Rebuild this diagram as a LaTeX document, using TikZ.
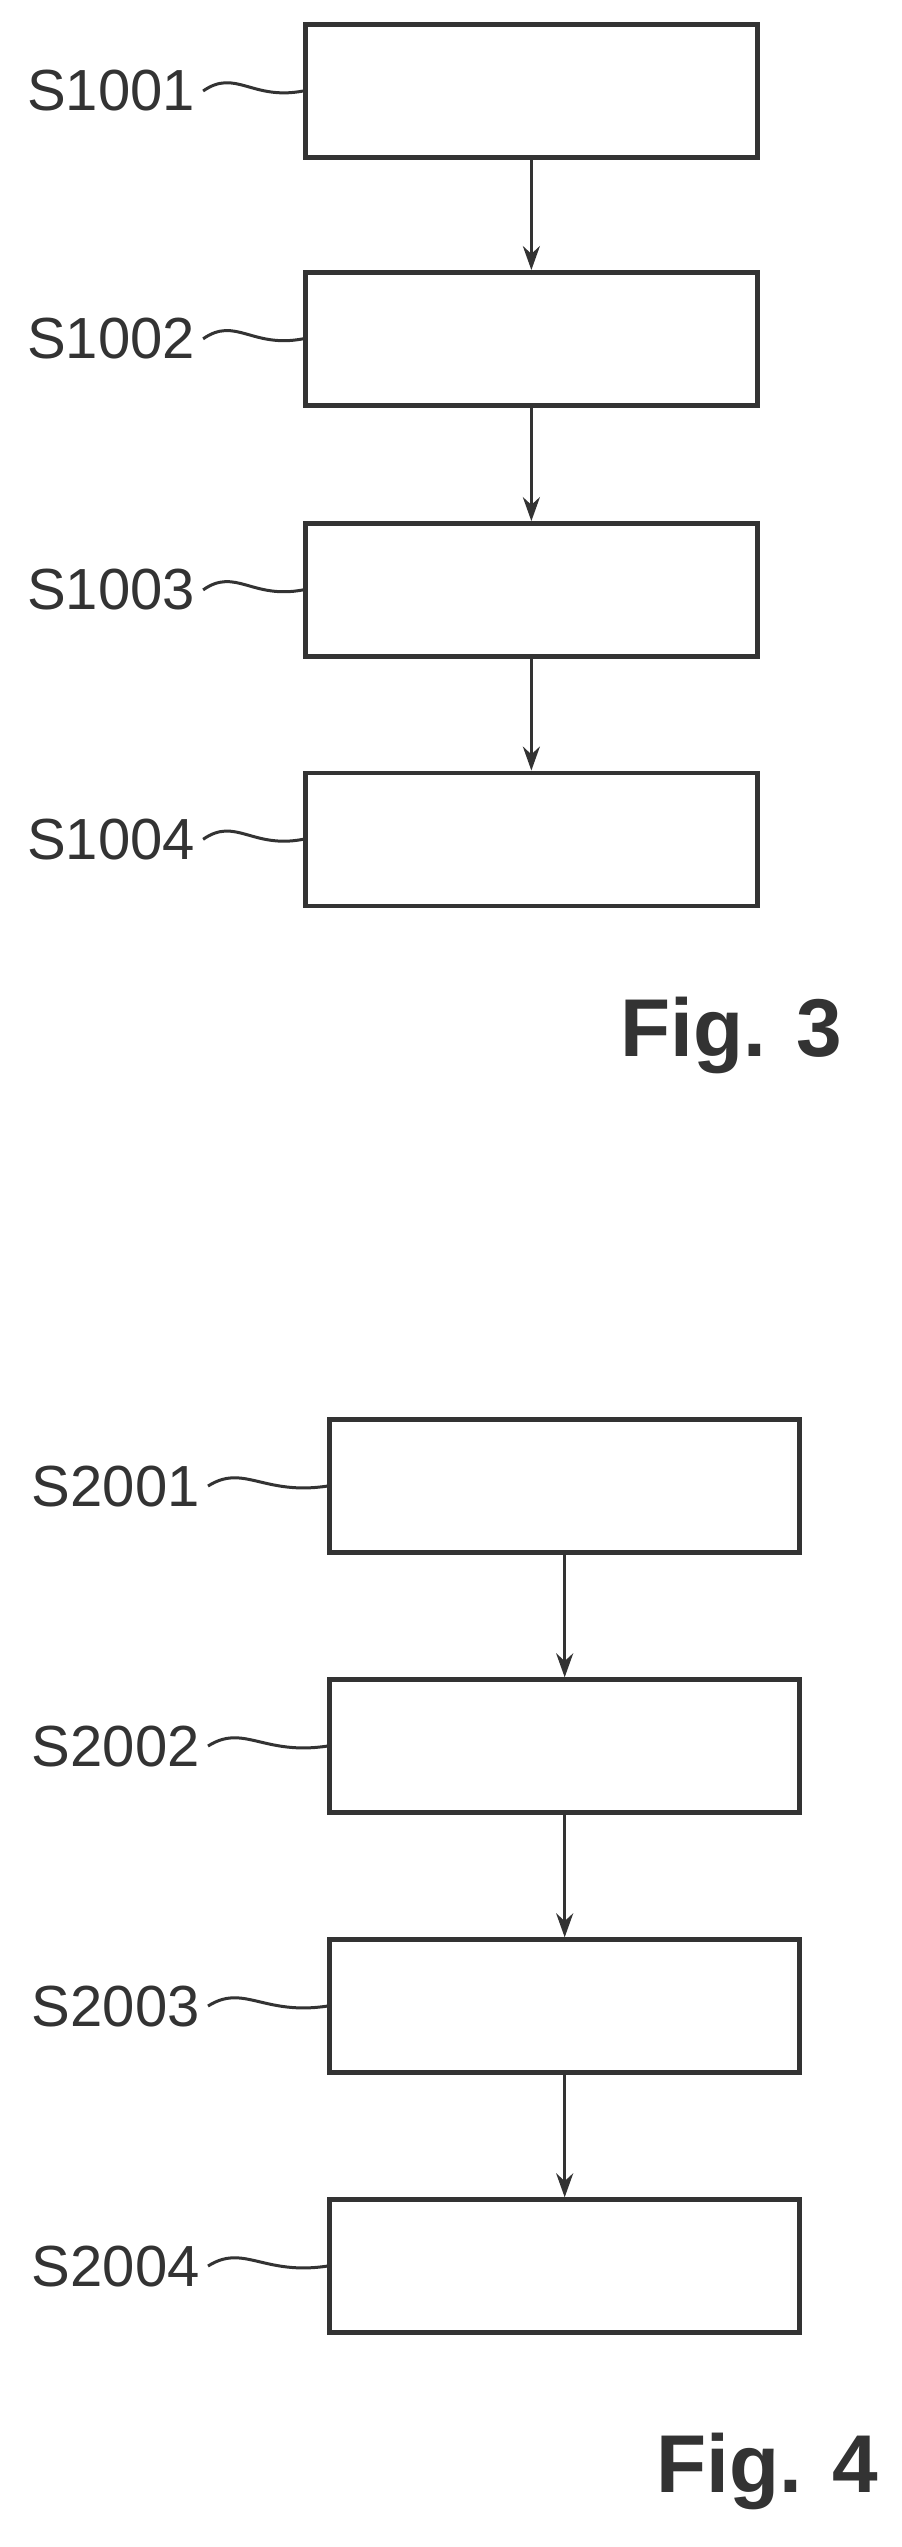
\documentclass[tikz,border=0pt]{standalone}
\usepackage{fontspec}
\setmainfont{Liberation Sans}
\usetikzlibrary{arrows.meta,calc}
\begin{document}
\begin{tikzpicture}[x=1.625pt,y=-1.625pt,
  stepbox/.style={draw=black!80,line width=4.5pt,minimum width=#1,minimum height=133pt,inner sep=0pt},
  lbl/.style={font=\fontsize{58}{66}\selectfont,text=black!80,anchor=east,inner sep=0pt},
  fig/.style={font=\fontsize{82}{92}\selectfont\bfseries,text=black!80,inner sep=0pt},
  conn/.style={draw=black!80,line width=3pt,-{Stealth[length=24pt,width=17pt]}},
  sq/.style={draw=black!80,line width=3pt}]
\useasboundingbox (0,0) rectangle (555,1567.4);
\fill[white] (0,0) rectangle (555,1567.4);
% Fig 3
\foreach \i/\y in {1/56,2/208.5,3/363,4/516.5}{
  \node[stepbox=452pt] (a\i) at (327,\y) {};
  \node[lbl] (la\i) at (120,\y) {S100\i};
  \draw[sq] (la\i.east) ++(5,0) coordinate (sa\i) .. controls ($(sa\i)+(20,-14)$) and ($(sa\i)+(30,6)$) .. (a\i.west);
}
\foreach \i/\j in {1/2,2/3,3/4}{\draw[conn] (a\i) -- (a\j);}
\node[fig] (f3) at (450,637) {Fig. 3};
% Fig 4
\foreach \i/\y in {1/914.5,2/1074.5,3/1234.5,4/1394.5}{
  \node[stepbox=470pt] (b\i) at (347.5,\y) {};
  \node[lbl] (lb\i) at (123,\y) {S200\i};
  \draw[sq] (lb\i.east) ++(5,0) coordinate (sb\i) .. controls ($(sb\i)+(22,-14)$) and ($(sb\i)+(34,6)$) .. (b\i.west);
}
\foreach \i/\j in {1/2,2/3,3/4}{\draw[conn] (b\i) -- (b\j);}
\node[fig] (f4) at (472,1521) {Fig. 4};
\end{tikzpicture}
\end{document}
